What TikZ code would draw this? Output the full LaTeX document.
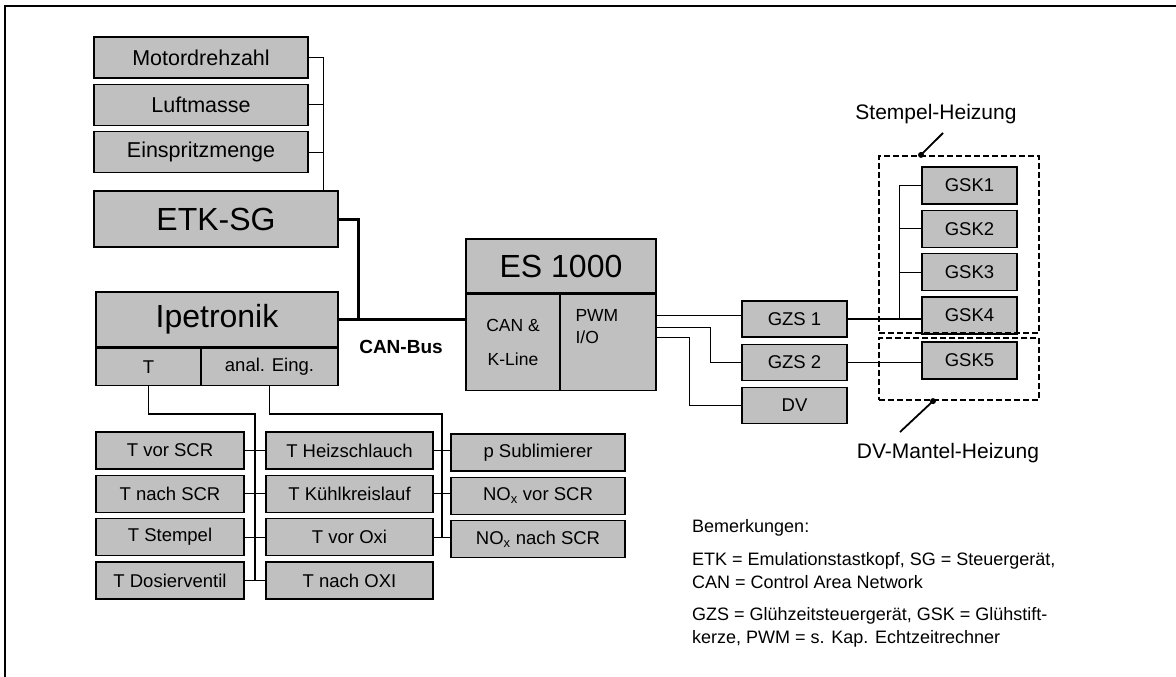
\documentclass[tikz,border=0pt]{standalone}
\usepackage{fontspec}
\setmainfont{Liberation Sans}
\usetikzlibrary{positioning,calc}
\definecolor{boxgray}{RGB}{192,192,192}
\newcommand{\fsz}[2]{\fontsize{#1}{#2}\selectfont}

\begin{document}
\begin{tikzpicture}[x=1pt, y=-1pt, node distance=5pt,
  box/.style={draw, line width=1.3pt, fill=boxgray, inner sep=0pt, align=center},
  big/.style={box, font=\fsz{32}{38}},
  mid/.style={box, font=\fsz{21.5}{26}, minimum width=214pt, minimum height=41pt},
  sm/.style={box, font=\fsz{18.5}{22}, minimum height=37pt},
  wire/.style={line width=1.2pt},
  bus/.style={line width=3pt},
  grp/.style={draw, line width=2.2pt, dash pattern=on 6pt off 3pt, inner sep=0pt},
  lbl/.style={font=\fsz{21}{25}, inner sep=0pt}]
\useasboundingbox (0,0) rectangle (1176,677);
\draw[line width=1.2pt] (5,677) -- (5,6) -- (1176,6);

% ETK-SG with its inputs
\node[mid] (motor) at (201,57.5) {Motordrehzahl};
\node[mid, below=of motor] (luft) {Luftmasse};
\node[mid, below=of luft] (einspr) {Einspritzmenge};
\node[big, minimum width=244pt, minimum height=56pt] (etk) at (216,219) {ETK-SG};
\draw[wire] (motor.east) -- ++(15,0) coordinate (mbus) -- (mbus |- etk.north);
\foreach \n in {luft,einspr}
  \draw[wire] (\n.east) -- (\n.east -| mbus);

% Ipetronik
\node[big, minimum width=242pt, minimum height=55pt] (ipe) at (217,319.5) {Ipetronik};
\node[sm, minimum width=105pt, anchor=north west] (ipeT) at (ipe.south west) {T};
\node[sm, minimum width=137pt, anchor=north east] (ipeA) at (ipe.south east) {anal. Eing.};

% ES 1000
\node[big, minimum width=190pt, minimum height=54pt] (es) at (561,266) {ES 1000};
\node[box, font=\fsz{17.5}{34}, minimum width=94pt, minimum height=96pt, anchor=north west] (escan) at (es.south west) {CAN \&\\K-Line};
\node[box, minimum width=96pt, minimum height=96pt, anchor=north east] (espwm) at (es.south east) {};
\node[font=\fsz{17.5}{22}, align=left, inner sep=0pt, anchor=north west] (pwmtxt) at ([xshift=16pt,yshift=-16pt]espwm.north west) {PWM\\I/O};

% CAN-Bus
\draw[bus] (ipe.east) -- (ipe.east -| escan.west);
\draw[bus] (etk.east) -- ++(20,0) coordinate (cj) -- (cj |- ipe.east);
\node[font=\bfseries\fsz{19}{23}] (canlbl) at (401,347) {CAN-Bus};

% sensors
\node[sm, minimum width=148pt] (tvs) at (170,450.5) {T vor SCR};
\node[sm, minimum width=148pt, below=of tvs] (tns) {T nach SCR};
\node[sm, minimum width=148pt, below=of tns] (tst) {T Stempel};
\node[sm, minimum width=148pt, below=of tst] (tdv) {T Dosierventil};
\node[sm, minimum width=167pt] (thz) at (349.5,450.5) {T Heizschlauch};
\node[sm, minimum width=167pt, below=of thz] (tkk) {T K\"uhlkreislauf};
\node[sm, minimum width=167pt, below=of tkk] (tvo) {T vor Oxi};
\node[sm, minimum width=167pt, below=of tvo] (tno) {T nach OXI};
\node[sm, minimum width=174pt] (psub) at (538,452.5) {p Sublimierer};
\node[sm, minimum width=174pt, below=of psub] (novs) {NO\textsubscript{x} vor SCR};
\node[sm, minimum width=174pt, below=of novs] (nons) {NO\textsubscript{x} nach SCR};

\draw[wire] (ipeT.south) -- ++(0,28) -| ($(tdv.east)!.5!(tno.west)$);
\foreach \a/\b in {tvs/thz,tns/tkk,tst/tvo,tdv/tno}
  \draw[wire] (\a.east) -- (\a.east -| \b.west);
\draw[wire] (ipeA.south) -- ++(0,28) -| ($(tvo.east)!.5!(nons.west)$);
\foreach \a/\b in {thz/psub,tkk/novs,tvo/nons}
  \draw[wire] (\a.east) -- (\a.east -| \b.west);

% Gluehzeit
\node[sm, minimum width=105pt, minimum height=36pt] (gzs1) at (794.5,319) {GZS 1};
\node[sm, minimum width=105pt, minimum height=36pt, below=6pt of gzs1] (gzs2) {GZS 2};
\node[sm, minimum width=105pt, minimum height=36pt, below=6pt of gzs2] (dv) {DV};
\draw[wire] ([yshift=-22pt]espwm.north east) coordinate (pw1) -- (pw1 -| gzs1.west);
\draw[wire] ([yshift=-34pt]espwm.north east) -- ++(54,0) |- (gzs2.west);
\draw[wire] ([yshift=-44pt]espwm.north east) -- ++(33,0) |- (dv.west);

\node[sm, minimum width=95pt] (gsk1) at (969.5,185.5) {GSK1};
\node[sm, minimum width=95pt, below=of gsk1] (gsk2) {GSK2};
\node[sm, minimum width=95pt, below=of gsk2] (gsk3) {GSK3};
\node[sm, minimum width=95pt, below=of gsk3] (gsk4) {GSK4};
\node[sm, minimum width=95pt] (gsk5) at (969.5,360.5) {GSK5};
\draw[wire] (gzs1.east) -- (gzs1.east -| gsk4.west);
\draw[wire] (gsk1.west) -- ++(-22,0) coordinate (gbus) -- (gbus |- gzs1.east);
\foreach \n in {gsk2,gsk3}
  \draw[wire] (\n.west) -- (\n.west -| gbus);
\draw[wire] (gzs2.east) -- (gzs2.east -| gsk5.west);

% heating groups
\node[grp, minimum width=160pt, minimum height=177pt] (stbox) at (959,244.5) {};
\node[grp, minimum width=160pt, minimum height=62pt] (dvbox) at (959,369) {};
\node[lbl] (stlbl) at (936,114) {Stempel-Heizung};
\node[lbl] (dvlbl) at (948,453) {DV-Mantel-Heizung};
\coordinate (sttip) at (943,133);
\coordinate (dvtip) at (900,432);
\fill ([xshift=-38pt]stbox.north) circle (3pt);
\draw[line width=1.8pt] (sttip) -- ([xshift=-38pt]stbox.north);
\fill ([xshift=-26pt]dvbox.south) circle (3pt);
\draw[line width=1.8pt] (dvtip) -- ([xshift=-26pt]dvbox.south);

% notes
\node[font=\fsz{18}{23}, align=left, inner sep=0pt, anchor=north west] (notes) at (692,519)
  {Bemerkungen:\\[10pt]
   ETK = Emulationstastkopf, SG = Steuerger\"at,\\
   CAN = Control Area Network\\[9pt]
   GZS = Gl\"uhzeitsteuerger\"at, GSK = Gl\"uhstift-\\
   kerze, PWM = s. Kap. Echtzeitrechner};
\end{tikzpicture}
\end{document}
